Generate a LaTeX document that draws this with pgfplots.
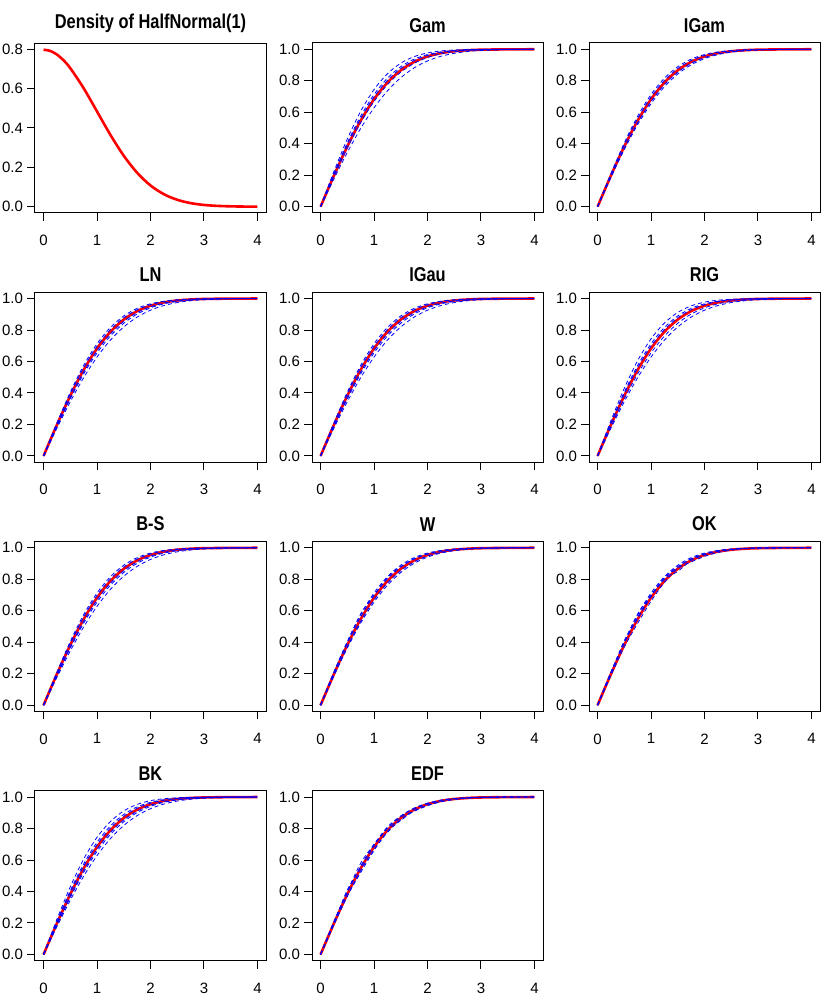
\documentclass[border=0pt]{standalone}
\usepackage{fontspec}
\setmainfont{Liberation Sans}
\newfontfamily\titlefont[FakeStretch=0.82]{Liberation Sans}
\usepackage{pgfplots}
\pgfplotsset{compat=1.18}
\usepackage{pgfplotstable}

% half-normal(1) density
\pgfplotstableread{
x     dens
0     0.7979
0.125 0.7917
0.25  0.7734
0.375 0.7437
0.5   0.7041
0.75  0.6023
1     0.4839
1.25  0.3653
1.5   0.2590
1.75  0.1726
2     0.1080
2.25  0.0635
2.5   0.0351
2.75  0.0182
3     0.0089
3.25  0.0041
3.5   0.0018
3.75  0.0007
4     0.0003
}\densdata

% true cdf (tr) and the estimated cdfs
\pgfplotstableread{
x    tr     a      b      c      d      e      g      w1    w2    w3
0    0      0      0      0      0      0      0      0     0     0
0.25 0.1974 0.2236 0.2098 0.2036 0.1920 0.1866 0.1765 0.21  0.19  0.20
0.5  0.3829 0.4300 0.4052 0.3934 0.3724 0.3630 0.3444 0.40  0.37  0.41
0.75 0.5467 0.6058 0.5752 0.5606 0.5334 0.5210 0.4971 0.58  0.52  0.55
1    0.6827 0.7441 0.7127 0.6975 0.6684 0.6544 0.6281 0.70  0.66  0.69
1.25 0.7887 0.8444 0.8165 0.8026 0.7752 0.7616 0.7355 0.81  0.78  0.80
1.5  0.8664 0.9118 0.8895 0.8780 0.8546 0.8430 0.8195 0.88  0.87  0.85
1.75 0.9199 0.9533 0.9374 0.9288 0.9106 0.9012 0.8820 0.93  0.91  0.92
2    0.9545 0.9770 0.9666 0.9608 0.9478 0.9408 0.9259 0.96  0.945 0.955
2.25 0.9756 0.9894 0.9833 0.9797 0.9710 0.9662 0.9555 0.975 0.97  0.98
2.5  0.9876 0.9955 0.9922 0.9900 0.9848 0.9816 0.9744 0.99  0.985 0.99
2.75 0.9940 0.9982 0.9966 0.9954 0.9924 0.9905 0.9859 0.995 0.996 0.994
3    0.9973 0.9993 0.9986 0.9980 0.9964 0.9953 0.9926 0.998 0.999 0.998
3.5  0.9995 0.9999 0.9998 0.9997 0.9993 0.9990 0.9982 1     1     1
4    1.0000 1.0000 1.0000 1.0000 0.9999 0.9998 0.9996 1     1     1
}\cdfdata

\pgfplotsset{
  rpanel/.style={
    scale only axis, width=115.5pt, height=85pt, anchor=south west,
    xmin=-0.16, xmax=4.16, xtick={0,1,2,3,4},
    tick align=outside, major tick length=4pt,
    xtick pos=left, ytick pos=left,
    axis line style={line width=0.5pt},
    every tick/.style={black, line width=0.5pt},
    /pgf/number format/assume math mode=true,
    ticklabel style={font=\fontsize{7.5}{9}\selectfont},
    xticklabel style={yshift=-3.5pt},
    yticklabel style={xshift=1.5pt, /pgf/number format/.cd, fixed, fixed zerofill, precision=1},
    title style={yshift=-1pt, inner sep=0pt,
      font=\titlefont\fontsize{10}{12}\selectfont\bfseries},
  },
  cdfpanel/.style={rpanel, ymin=-0.04, ymax=1.04, ytick={0,0.2,0.4,0.6,0.8,1}},
  truecdf/.style={red, line width=1.3pt, smooth, no markers},
  est/.style={blue, line width=0.4pt, dash pattern=on 2pt off 1.5pt, smooth, no markers},
}

\begin{document}
\begin{tikzpicture}[x=1pt,y=1pt]
\useasboundingbox (0,0) rectangle (415,498.5);

\begin{axis}[rpanel, at={(17.5pt,392pt)}, title={Density of HalfNormal(1)},
  ymin=-0.032, ymax=0.832, ytick={0,0.2,0.4,0.6,0.8}]
\addplot[truecdf] table[x=x,y=dens] {\densdata};
\end{axis}

\begin{axis}[cdfpanel, at={(156pt,392pt)}, title={Gam}]
\addplot[truecdf] table[x=x,y=tr] {\cdfdata};
\addplot[est] table[x=x,y=a] {\cdfdata};
\addplot[est] table[x=x,y=b] {\cdfdata};
\addplot[est] table[x=x,y=c] {\cdfdata};
\addplot[est] table[x=x,y=d] {\cdfdata};
\addplot[est] table[x=x,y=g] {\cdfdata};
\end{axis}

\begin{axis}[cdfpanel, at={(294.5pt,392pt)}, title={IGam}]
\addplot[truecdf] table[x=x,y=tr] {\cdfdata};
\addplot[est] table[x=x,y=b] {\cdfdata};
\addplot[est] table[x=x,y=c] {\cdfdata};
\addplot[est] table[x=x,y=d] {\cdfdata};
\addplot[est] table[x=x,y=e] {\cdfdata};
\end{axis}

\begin{axis}[cdfpanel, at={(17.5pt,267.375pt)}, title={LN}]
\addplot[truecdf] table[x=x,y=tr] {\cdfdata};
\addplot[est] table[x=x,y=b] {\cdfdata};
\addplot[est] table[x=x,y=c] {\cdfdata};
\addplot[est] table[x=x,y=d] {\cdfdata};
\addplot[est] table[x=x,y=e] {\cdfdata};
\addplot[est] table[x=x,y=g] {\cdfdata};
\end{axis}

\begin{axis}[cdfpanel, at={(156pt,267.375pt)}, title={IGau}]
\addplot[truecdf] table[x=x,y=tr] {\cdfdata};
\addplot[est] table[x=x,y=b] {\cdfdata};
\addplot[est] table[x=x,y=c] {\cdfdata};
\addplot[est] table[x=x,y=d] {\cdfdata};
\addplot[est] table[x=x,y=e] {\cdfdata};
\addplot[est] table[x=x,y=g] {\cdfdata};
\end{axis}

\begin{axis}[cdfpanel, at={(294.5pt,267.375pt)}, title={RIG}]
\addplot[truecdf] table[x=x,y=tr] {\cdfdata};
\addplot[est] table[x=x,y=a] {\cdfdata};
\addplot[est] table[x=x,y=b] {\cdfdata};
\addplot[est] table[x=x,y=c] {\cdfdata};
\addplot[est] table[x=x,y=e] {\cdfdata};
\addplot[est] table[x=x,y=g] {\cdfdata};
\end{axis}

\begin{axis}[cdfpanel, at={(17.5pt,142.75pt)}, title={B-S}]
\addplot[truecdf] table[x=x,y=tr] {\cdfdata};
\addplot[est] table[x=x,y=b] {\cdfdata};
\addplot[est] table[x=x,y=c] {\cdfdata};
\addplot[est] table[x=x,y=d] {\cdfdata};
\addplot[est] table[x=x,y=e] {\cdfdata};
\addplot[est] table[x=x,y=g] {\cdfdata};
\end{axis}

\begin{axis}[cdfpanel, at={(156pt,142.75pt)}, title={W}]
\addplot[truecdf] table[x=x,y=tr] {\cdfdata};
\addplot[est] table[x=x,y=b] {\cdfdata};
\addplot[est] table[x=x,y=c] {\cdfdata};
\addplot[est] table[x=x,y=d] {\cdfdata};
\addplot[est] table[x=x,y=e] {\cdfdata};
\addplot[est] table[x=x,y=w1] {\cdfdata};
\end{axis}

\begin{axis}[cdfpanel, at={(294.5pt,142.75pt)}, title={OK}]
\addplot[truecdf] table[x=x,y=tr] {\cdfdata};
\addplot[est] table[x=x,y=b] {\cdfdata};
\addplot[est] table[x=x,y=c] {\cdfdata};
\addplot[est] table[x=x,y=w1] {\cdfdata};
\addplot[est] table[x=x,y=w2] {\cdfdata};
\addplot[est] table[x=x,y=w3] {\cdfdata};
\end{axis}

\begin{axis}[cdfpanel, at={(17.5pt,18.125pt)}, title={BK}]
\addplot[truecdf] table[x=x,y=tr] {\cdfdata};
\addplot[est] table[x=x,y=a] {\cdfdata};
\addplot[est] table[x=x,y=b] {\cdfdata};
\addplot[est] table[x=x,y=c] {\cdfdata};
\addplot[est] table[x=x,y=d] {\cdfdata};
\addplot[est] table[x=x,y=e] {\cdfdata};
\addplot[est] table[x=x,y=g] {\cdfdata};
\end{axis}

\begin{axis}[cdfpanel, at={(156pt,18.125pt)}, title={EDF}]
\addplot[truecdf] table[x=x,y=tr] {\cdfdata};
\addplot[est] table[x=x,y=c] {\cdfdata};
\addplot[est] table[x=x,y=d] {\cdfdata};
\addplot[est] table[x=x,y=w1] {\cdfdata};
\addplot[est] table[x=x,y=w2] {\cdfdata};
\addplot[est] table[x=x,y=w3] {\cdfdata};
\end{axis}

\end{tikzpicture}
\end{document}
